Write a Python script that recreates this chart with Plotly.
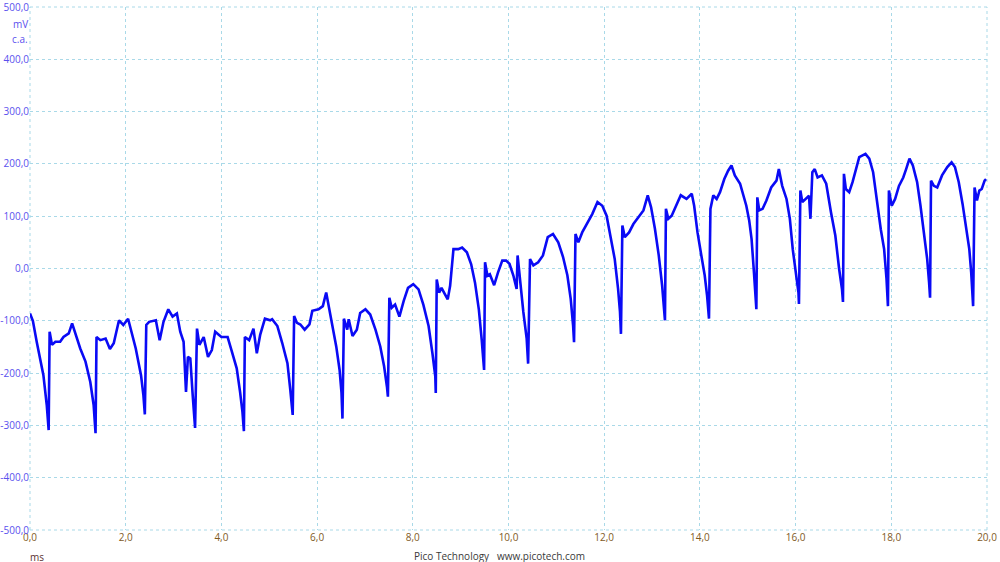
import plotly.graph_objects as go

# ---- data (time in ms, voltage in mV) ----
time_ms = [
    0.00, 0.06, 0.14, 0.22, 0.28, 0.35, 0.39, 0.41, 0.46, 0.53, 0.63, 0.70, 0.81, 0.88, 0.95, 1.05, 1.16, 1.26, 1.33, 1.37,
    1.39, 1.47, 1.58, 1.67, 1.75, 1.86, 1.95, 2.05, 2.12, 2.21, 2.32, 2.37, 2.40,
    2.43, 2.49, 2.63, 2.71, 2.79, 2.89, 2.98, 3.07, 3.14, 3.21, 3.26, 3.30, 3.35, 3.40, 3.45,
    3.49, 3.54, 3.63, 3.72, 3.80, 3.87, 4.00, 4.13, 4.21, 4.32, 4.39, 4.44, 4.47,
    4.49, 4.58, 4.67, 4.74, 4.81, 4.91, 5.02, 5.06, 5.17, 5.27, 5.38, 5.44, 5.49,
    5.52, 5.58, 5.65, 5.74, 5.84, 5.90, 6.03, 6.12, 6.19, 6.24, 6.31, 6.40, 6.47, 6.51, 6.53,
    6.56, 6.63, 6.66, 6.74, 6.83, 6.90, 7.01, 7.11, 7.22, 7.32, 7.40, 7.46, 7.48,
    7.51, 7.56, 7.63, 7.72, 7.81, 7.90, 8.01, 8.12, 8.22, 8.33, 8.41, 8.47, 8.48,
    8.50, 8.55, 8.60, 8.67, 8.73, 8.78, 8.85, 8.95, 9.03, 9.13, 9.22, 9.30, 9.38, 9.44, 9.49,
    9.51, 9.56, 9.61, 9.70, 9.78, 9.87, 9.95, 10.02, 10.10, 10.17, 10.19, 10.24, 10.31, 10.38, 10.41,
    10.45, 10.52, 10.62, 10.72, 10.82, 10.93, 11.04, 11.14, 11.23, 11.30, 11.35, 11.37,
    11.40, 11.46, 11.54, 11.63, 11.75, 11.86, 11.96, 12.05, 12.14, 12.22, 12.29, 12.33, 12.35,
    12.38, 12.43, 12.52, 12.61, 12.71, 12.82, 12.91, 12.98, 13.06, 13.14, 13.21, 13.25, 13.27,
    13.29, 13.34, 13.41, 13.49, 13.60, 13.72, 13.83, 13.88, 13.95, 14.03, 14.10, 14.15, 14.19,
    14.22, 14.28, 14.35, 14.42, 14.51, 14.59, 14.66, 14.73, 14.84, 14.93, 14.97, 15.03, 15.08, 15.13, 15.17, 15.18,
    15.20, 15.24, 15.31, 15.39, 15.49, 15.60, 15.65, 15.72, 15.81, 15.88, 15.94, 16.01, 16.06, 16.07,
    16.10, 16.14, 16.21, 16.28, 16.31, 16.35, 16.40, 16.46, 16.55, 16.64, 16.74, 16.83, 16.91, 16.97, 16.99,
    17.01, 17.05, 17.12, 17.19, 17.26, 17.33, 17.46, 17.54, 17.62, 17.71, 17.78, 17.85, 17.90, 17.93,
    17.95, 18.01, 18.08, 18.16, 18.25, 18.31, 18.38, 18.45, 18.54, 18.61, 18.68, 18.75, 18.79, 18.81,
    18.83, 18.89, 18.96, 19.06, 19.17, 19.26, 19.33, 19.41, 19.49, 19.56, 19.63, 19.67, 19.70, 19.71,
    19.74, 19.79, 19.84, 19.89, 19.95, 19.98,
]
voltage_mv = [
    -86, -100, -140, -175, -204, -261, -309, -121, -146, -140, -140, -131, -124, -105, -124, -153, -178, -217, -261, -315,
    -131, -137, -134, -154, -143, -99, -108, -96, -121, -153, -204, -242, -279,
    -108, -102, -99, -137, -102, -78, -92, -86, -121, -140, -236, -169, -172, -242, -305,
    -115, -146, -131, -169, -156, -121, -131, -131, -156, -191, -236, -274, -311,
    -131, -137, -115, -162, -127, -96, -99, -97, -110, -142, -181, -232, -280,
    -91, -104, -107, -117, -107, -81, -78, -72, -46, -72, -104, -149, -194, -238, -287,
    -96, -117, -97, -129, -117, -85, -78, -88, -117, -149, -187, -226, -245,
    -56, -75, -69, -92, -62, -37, -30, -40, -69, -110, -162, -206, -238,
    -21, -46, -37, -49, -59, -33, 37, 37, 40, 31, 8, -27, -78, -136, -194,
    12, -14, -11, -32, -8, 15, 15, 9, -13, -39, 25, -26, -83, -134, -182,
    18, 6, 12, 25, 60, 66, 50, 22, -13, -58, -109, -141,
    66, 50, 69, 85, 104, 127, 120, 101, 60, 18, -39, -83, -125,
    82, 60, 69, 85, 98, 111, 140, 117, 76, 25, -32, -71, -99,
    114, 95, 101, 117, 140, 133, 143, 120, 69, 25, -13, -52, -96,
    114, 140, 133, 146, 171, 187, 197, 178, 162, 133, 120, 92, 56, -8, -52, -78,
    136, 111, 114, 130, 155, 168, 190, 158, 133, 95, 37, -14, -46, -68,
    149, 127, 133, 139, 95, 184, 190, 174, 178, 162, 107, 63, -1, -40, -64,
    181, 152, 146, 165, 187, 213, 219, 210, 184, 120, 75, 37, -20, -72,
    149, 120, 133, 158, 174, 190, 210, 197, 165, 120, 69, 18, -27, -56,
    168, 158, 155, 178, 194, 203, 194, 165, 123, 82, 37, -8, -52, -72,
    155, 130, 149, 152, 168, 171,
]

x_tick_vals = [0, 2, 4, 6, 8, 10, 12, 14, 16, 18, 20]
x_tick_text = ["0,0", "2,0", "4,0", "6,0", "8,0", "10,0", "12,0", "14,0", "16,0", "18,0", "20,0"]
y_tick_vals = [500, 400, 300, 200, 100, 0, -100, -200, -300, -400, -500]
y_tick_text = ["500,0", "400,0", "300,0", "200,0", "100,0", "0,0", "-100,0", "-200,0", "-300,0", "-400,0", "-500,0"]

GRID = "#a9d9e8"
FONT = "Open Sans"

fig = go.Figure()
fig.add_trace(go.Scatter(
    x=time_ms, y=voltage_mv, mode="lines",
    line=dict(color="#0a0af5", width=2.6),
    hoverinfo="skip", showlegend=False,
))

fig.update_layout(
    width=1000, height=562,
    margin=dict(l=30, r=13, t=7, b=32, autoexpand=False),
    paper_bgcolor="white", plot_bgcolor="white",
    font=dict(family=FONT, size=10),
    xaxis=dict(
        range=[0, 20], tickvals=x_tick_vals, ticktext=x_tick_text,
        showgrid=True, gridcolor=GRID, griddash="dot", gridwidth=1,
        zeroline=False, showline=False, ticks="", automargin=False,
        ticklabeloverflow="allow",
        tickfont=dict(family=FONT, size=10, color="#7f5a1e"),
        fixedrange=True,
    ),
    yaxis=dict(
        range=[-500, 500], tickvals=y_tick_vals, ticktext=y_tick_text,
        showgrid=True, gridcolor=GRID, griddash="dot", gridwidth=1,
        zeroline=False, showline=False, ticks="", automargin=False,
        ticklabeloverflow="allow",
        tickfont=dict(family=FONT, size=10, color="#5a50ee"),
        fixedrange=True,
    ),
    shapes=[
        dict(type="line", xref="paper", yref="paper", x0=0, x1=1, y0=1, y1=1,
             line=dict(color=GRID, width=1, dash="dot"), layer="below"),
        dict(type="line", xref="paper", yref="paper", x0=0, x1=1, y0=0, y1=0,
             line=dict(color=GRID, width=1, dash="dot"), layer="below"),
        dict(type="line", xref="paper", yref="paper", x0=0, x1=0, y0=0, y1=1,
             line=dict(color=GRID, width=1, dash="dot"), layer="below"),
        dict(type="line", xref="paper", yref="paper", x0=1, x1=1, y0=0, y1=1,
             line=dict(color=GRID, width=1, dash="dot"), layer="below"),
    ],
    annotations=[
        dict(text="mV", xref="paper", yref="paper", x=-0.0095, y=0.968,
             xanchor="center", yanchor="middle", showarrow=False,
             font=dict(family=FONT, size=10, color="#5a50ee")),
        dict(text="c.a.", xref="paper", yref="paper", x=-0.0105, y=0.939,
             xanchor="center", yanchor="middle", showarrow=False,
             font=dict(family=FONT, size=10, color="#5a50ee")),
        dict(text="ms", xref="paper", yref="paper", x=0.0075, y=-0.051,
             xanchor="center", yanchor="middle", showarrow=False,
             font=dict(family=FONT, size=10, color="#5a3030")),
        dict(text="Pico Technology   www.picotech.com", xref="paper", yref="paper",
             x=0.491, y=-0.050, xanchor="center", yanchor="middle", showarrow=False,
             font=dict(family=FONT, size=10, color="#3a3a3a")),
    ],
)

fig.write_html(
    "out.html",
    config={"displayModeBar": False, "staticPlot": True},
    post_script="document.body.style.margin='0';document.body.style.overflow='hidden';",
)
